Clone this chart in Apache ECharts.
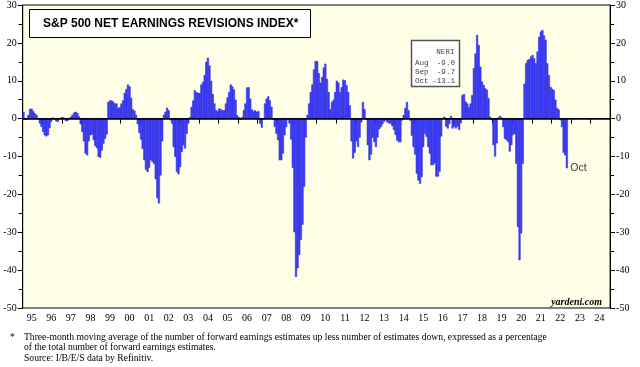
<!DOCTYPE html>
<html><head><meta charset="utf-8">
<script src="https://cdn.jsdelivr.net/npm/echarts@6/dist/echarts.min.js"></script>
<style>html,body{margin:0;padding:0;background:#fff}#c{width:640px;height:367px}</style>
</head><body><div id="c"></div>
<script>
// Tick labels (years shown on the x axis)
const yearLabels = ['95','96','97','98','99','00','01','02','03','04','05','06','07','08','09','10','11','12','13','14','15','16','17','18','19','20','21','22','23','24'];
const firstYear = 1995;
const monthNames = ['Jan','Feb','Mar','Apr','May','Jun','Jul','Aug','Sep','Oct','Nov','Dec'];

// NERI monthly values (%)
const v1995 = [1.8, -0.3, -0.2, 1.0, 2.6, 2.6, 2.0, 1.4, 1.0, -0.2, -1.3, -2.2];
const v1996 = [-3.5, -4.4, -4.7, -4.4, -2.5, -0.8, 0.3, -0.3, -0.7, -0.9, -0.2, 0.3];
const v1997 = [0.4, 0.2, -0.7, -0.6, 0.1, 0.5, 1.0, 1.6, 1.8, 1.5, 0.6, -1.5];
const v1998 = [-3.5, -6.0, -9.2, -9.7, -6.0, -4.4, -4.2, -5.7, -7.2, -7.8, -10.1, -10.3];
const v1999 = [-8.4, -6.6, -5.3, -4.2, 4.4, 4.8, 4.8, 4.5, 4.0, 4.0, 2.8, 3.0];
const v2000 = [4.0, 4.8, 6.8, 7.8, 9.0, 8.5, 5.5, 2.5, 2.1, 1.0, -1.5, -3.8];
const v2001 = [-5.5, -8.0, -11.0, -13.5, -14.1, -13.0, -11.0, -11.4, -12.0, -16.0, -21.0, -22.4];
const v2002 = [-15.0, -6.0, 1.0, 1.8, 2.9, 2.2, -0.4, -1.3, -7.5, -10.1, -14.1, -14.7];
const v2003 = [-12.8, -8.8, -7.0, -7.9, -4.0, -1.3, 0.4, 3.1, 4.8, 7.5, 7.0, 6.8];
const v2004 = [6.8, 9.0, 9.7, 11.5, 15.0, 16.1, 14.0, 10.0, 6.5, 4.0, 2.3, 2.0];
const v2005 = [2.7, 2.5, 2.2, 2.2, 4.0, 5.6, 7.0, 9.0, 8.5, 7.7, 5.0, 0.9];
const v2006 = [0.4, -0.3, 0.4, 2.2, 4.0, 8.2, 8.3, 5.3, 2.4, 2.0, 2.2, 1.8];
const v2007 = [2.0, -1.3, -2.4, -0.3, 4.0, 5.3, 5.9, 4.8, 3.1, -0.3, -2.2, -4.0];
const v2008 = [-5.7, -11.0, -11.0, -9.2, -4.4, -2.2, -0.4, -1.3, -5.5, -13.0, -30.0, -41.8];
const v2009 = [-39.5, -36.0, -32.0, -28.0, -18.0, -5.0, 1.0, 4.0, 7.0, 9.0, 13.0, 15.2];
const v2010 = [15.2, 12.0, 9.5, 11.0, 13.5, 14.5, 10.5, 7.0, 2.5, 4.4, 5.0, 7.0];
const v2011 = [10.0, 9.5, 7.0, 8.3, 10.3, 10.1, 8.8, 7.0, 3.5, -6.0, -10.5, -9.0];
const v2012 = [-6.0, -7.5, -5.0, -1.0, 4.4, 2.5, -0.3, -7.0, -11.0, -9.5, -5.0, -6.2];
const v2013 = [-7.5, -5.0, -2.8, -2.3, -1.5, -0.8, -0.5, -1.0, -1.3, -1.3, -2.0, -3.0];
const v2014 = [-4.3, -5.8, -6.2, -6.2, -0.5, 1.0, 2.8, 4.4, 2.2, -0.5, -4.5, -7.5];
const v2015 = [-9.5, -14.5, -16.3, -17.2, -15.4, -7.5, -4.0, -4.8, -7.5, -9.2, -12.3, -12.3];
const v2016 = [-11.8, -15.3, -15.3, -14.0, -4.7, 0.2, 0.5, -2.1, -2.6, -1.4, 0.7, -2.6];
const v2017 = [-2.1, -2.6, -2.1, -3.0, -1.2, 6.2, 6.5, 4.5, 4.0, 3.0, 4.0, 6.2];
const v2018 = [13.3, 17.2, 22.1, 19.4, 13.7, 9.8, 8.9, 8.0, 7.6, 5.4, 0.5, -0.4];
const v2019 = [-7.0, -10.0, -6.5, 0.3, 0.7, 0.3, -2.2, -5.3, -5.7, -6.2, -8.7, -7.0];
const v2020 = [-4.4, -4.0, -11.9, -28.6, -37.4, -30.3, -11.9, 9.2, 14.6, 15.5, 15.7, 16.4];
const v2021 = [16.8, 15.9, 14.6, 17.7, 21.6, 23.0, 23.4, 22.0, 20.8, 14.6, 11.5, 8.4];
const v2022 = [7.9, 7.5, 5.0, 2.8, 2.4, -0.4, -2.2, -9.0, -9.7, -13.1];

const neri = [].concat(v1995, v1996, v1997, v1998, v1999, v2000, v2001, v2002, v2003, v2004,
  v2005, v2006, v2007, v2008, v2009, v2010, v2011, v2012, v2013, v2014, v2015, v2016, v2017,
  v2018, v2019, v2020, v2021, v2022);

// Monthly categories across the whole axis (1995-2024)
const categories = [];
yearLabels.forEach((yl, yi) => { for (let m = 0; m < 12; m++) categories.push((firstYear + yi) + '-' + (m + 1)); });

const lastIdx = neri.length - 1;
const monthOf = i => monthNames[i % 12];
const fmt = v => v.toFixed(1);
const legendRows = [lastIdx - 2, lastIdx - 1, lastIdx].map(i => [monthOf(i), fmt(neri[i])]);

const chart = echarts.init(document.getElementById('c'), null, {renderer: 'canvas'});
const axisFont = {fontFamily: 'Liberation Serif', fontSize: 10, color: '#000'};
const yAxisBase = {
  type: 'value', min: -50, max: 30, interval: 10,
  axisLine: {show: true, lineStyle: {color: '#000', width: 1}},
  axisTick: {show: true, inside: false, length: 5, lineStyle: {color: '#000'}},
  minorTick: {show: true, splitNumber: 2, length: 4, lineStyle: {color: '#000'}},
  splitLine: {show: false},
  axisLabel: Object.assign({margin: 6}, axisFont)
};

const monoFont = '7.6px "Liberation Mono"';
const legendText = [];
legendText.push({type: 'text', style: {x: 454.5, y: 51.5, text: 'NERI', textAlign: 'right', textVerticalAlign: 'middle', font: monoFont, fill: '#444'}});
legendRows.forEach((r, k) => {
  legendText.push({type: 'text', style: {x: 415, y: 62.5 + k * 9.3, text: r[0], textAlign: 'left', textVerticalAlign: 'middle', font: monoFont, fill: '#444'}});
  legendText.push({type: 'text', style: {x: 455, y: 62.5 + k * 9.3, text: r[1], textAlign: 'right', textVerticalAlign: 'middle', font: monoFont, fill: '#444'}});
});

const footFont = '9.6px "Liberation Serif"';
chart.setOption({
  animation: false,
  backgroundColor: '#ffffff',
  grid: {left: 22.7, right: 29.9, top: 5, bottom: 59, containLabel: false, outerBoundsMode: 'none',
    show: true, backgroundColor: '#FFFEE6', borderColor: '#000', borderWidth: 1},
  xAxis: {
    type: 'category', data: categories, boundaryGap: true,
    axisLine: {show: true, lineStyle: {color: '#000'}},
    axisTick: {show: true, length: 5, interval: i => i % 12 === 0, lineStyle: {color: '#000'}},
    axisLabel: Object.assign({margin: 5, interval: i => i % 12 === 5,
      formatter: (v, i) => yearLabels[Math.floor(i / 12)]}, axisFont),
    splitLine: {show: false}
  },
  yAxis: [
    Object.assign({position: 'left'}, yAxisBase),
    Object.assign({position: 'right'}, yAxisBase)
  ],
  series: [
    {
      type: 'bar', data: neri, barWidth: '125%', yAxisIndex: 0,
      itemStyle: {color: '#3d3dff', borderColor: '#2828d8', borderWidth: 0.5},
      markLine: {silent: true, symbol: ['none', 'none'], label: {show: false},
        lineStyle: {color: '#000', width: 1.5, type: 'solid'}, data: [{yAxis: 0}]}
    },
    {
      type: 'scatter', data: [[lastIdx, neri[lastIdx]]], symbolSize: 1, yAxisIndex: 0,
      itemStyle: {color: 'rgba(0,0,0,0)'},
      label: {show: true, position: 'right', distance: 3, formatter: () => monthOf(lastIdx),
        fontFamily: 'Liberation Sans', fontSize: 10.5, color: '#000'}
    }
  ],
  graphic: [
    {type: 'rect', shape: {x: 29.5, y: 9.5, width: 281, height: 28}, style: {fill: '#fff', stroke: '#000', lineWidth: 1}},
    {type: 'text', style: {x: 43, y: 24, text: 'S&P 500 NET EARNINGS REVISIONS INDEX*', textVerticalAlign: 'middle',
      font: 'bold 12px "Liberation Sans"', fill: '#000'}},
    {type: 'rect', shape: {x: 411.5, y: 40.5, width: 48, height: 46}, style: {fill: '#fff', stroke: '#555', lineWidth: 1.5}},
    ...legendText,
    {type: 'text', style: {x: 602, y: 302, text: 'yardeni.com', textAlign: 'right', textVerticalAlign: 'middle',
      font: 'italic bold 10px "Liberation Serif"', fill: '#000'}},
    {type: 'text', style: {x: 10, y: 337, text: '*', textVerticalAlign: 'middle', font: footFont, fill: '#000'}},
    {type: 'text', style: {x: 24, y: 337, text: 'Three-month moving average of the number of forward earnings estimates up less number of estimates down, expressed as a percentage', textVerticalAlign: 'middle', font: footFont, fill: '#000'}},
    {type: 'text', style: {x: 24, y: 347.5, text: 'of the total number of forward earnings estimates.', textVerticalAlign: 'middle', font: footFont, fill: '#000'}},
    {type: 'text', style: {x: 24, y: 358, text: 'Source: I/B/E/S data by Refinitiv.', textVerticalAlign: 'middle', font: footFont, fill: '#000'}}
  ]
});
</script></body></html>
